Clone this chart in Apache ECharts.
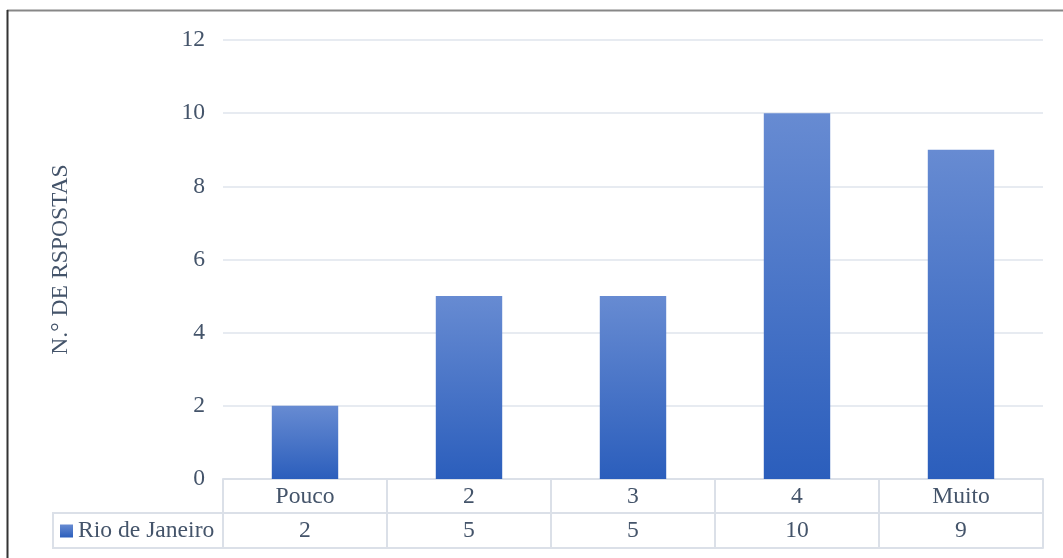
<!DOCTYPE html>
<html>
<head>
<meta charset="utf-8">
<script src="https://cdn.jsdelivr.net/npm/echarts@6/dist/echarts.min.js"></script>
<style>html,body{margin:0;padding:0;background:#fff;}#c{width:1063px;height:558px;}</style>
</head>
<body>
<div id="c"></div>
<script>
var categories = ['Pouco', '2', '3', '4', 'Muito'];
var seriesName = 'Rio de Janeiro';
var values = [2, 5, 5, 10, 9];
var yTicks = { min: 0, max: 12, interval: 2 };
var yTitle = 'N.° DE RSPOSTAS';

var FONT = '"Liberation Serif", "Times New Roman", serif';
var FS = 23.6;
var TXT = '#44546a';
var LINE = '#dbe0e8';
var chart = echarts.init(document.getElementById('c'), null, { renderer: 'canvas' });

var gridL = 223, gridT = 40, gridW = 820, gridH = 439;
var row1 = 34, row2 = 35;

chart.setOption({
  animation: false,
  backgroundColor: '#fff',
  textStyle: { fontFamily: FONT },
  grid: { left: gridL, top: gridT, width: gridW, height: gridH, containLabel: false },
  legend: {
    show: true, left: 60, top: 519, itemWidth: 13, itemHeight: 13, itemGap: 5,
    icon: 'rect',
    textStyle: { fontFamily: FONT, fontSize: FS, color: TXT, padding: [0, 0, 0, 0] },
    padding: 0,
    data: [seriesName]
  },
  xAxis: [
    {
      type: 'category', data: categories, position: 'bottom', offset: 0,
      axisLine: { show: true, lineStyle: { color: LINE, width: 2 } },
      axisTick: { show: true, interval: 0, length: row1, lineStyle: { color: LINE, width: 2 } },
      axisLabel: { interval: 0, margin: 6, fontFamily: FONT, fontSize: FS, lineHeight: 23, color: TXT },
      splitLine: { show: false }
    },
    {
      type: 'category', data: categories, position: 'bottom', offset: row1,
      axisLine: { show: true, lineStyle: { color: LINE, width: 2 } },
      axisTick: { show: true, interval: 0, length: row2, lineStyle: { color: LINE, width: 2 } },
      axisLabel: { interval: 0, margin: 6, fontFamily: FONT, fontSize: FS, lineHeight: 23, color: TXT,
        formatter: function (v, i) { return String(values[i]); } },
      splitLine: { show: false }
    },
    {
      type: 'category', data: categories, position: 'bottom', offset: row1 + row2,
      axisLine: { show: true, lineStyle: { color: LINE, width: 2 } },
      axisTick: { show: false }, axisLabel: { show: false }, splitLine: { show: false }
    }
  ],
  yAxis: {
    type: 'value', min: yTicks.min, max: yTicks.max, interval: yTicks.interval,
    name: yTitle, nameLocation: 'middle', nameRotate: 90, nameGap: 150,
    nameTextStyle: { fontFamily: FONT, fontSize: FS, color: TXT },
    axisLine: { show: false }, axisTick: { show: false },
    axisLabel: { margin: 18, fontFamily: FONT, fontSize: FS, color: TXT },
    splitLine: { show: true, lineStyle: { color: '#dfe4ec', width: 1.5 } }
  },
  series: [{
    name: seriesName, type: 'bar', xAxisIndex: 0, data: values, barWidth: '40.5%',
    itemStyle: {
      color: new echarts.graphic.LinearGradient(0, 0, 0, 1, [
        { offset: 0, color: '#678bd2' },
        { offset: 1, color: '#2b5ebc' }
      ])
    }
  }],
  graphic: [
    { type: 'line', shape: { x1: 7, y1: 10.5, x2: 1063, y2: 10.5 }, style: { stroke: '#878787', lineWidth: 2 }, silent: true },
    { type: 'line', shape: { x1: 7.5, y1: 10, x2: 7.5, y2: 558 }, style: { stroke: '#333', lineWidth: 2 }, silent: true },
    { type: 'line', shape: { x1: 53, y1: gridT + gridH + row1, x2: gridL, y2: gridT + gridH + row1 }, style: { stroke: LINE, lineWidth: 2 }, silent: true },
    { type: 'line', shape: { x1: 53, y1: gridT + gridH + row1 + row2, x2: gridL, y2: gridT + gridH + row1 + row2 }, style: { stroke: LINE, lineWidth: 2 }, silent: true },
    { type: 'line', shape: { x1: 53, y1: gridT + gridH + row1 - 1, x2: 53, y2: gridT + gridH + row1 + row2 + 1 }, style: { stroke: LINE, lineWidth: 2 }, silent: true }
  ]
});
</script>
</body>
</html>
